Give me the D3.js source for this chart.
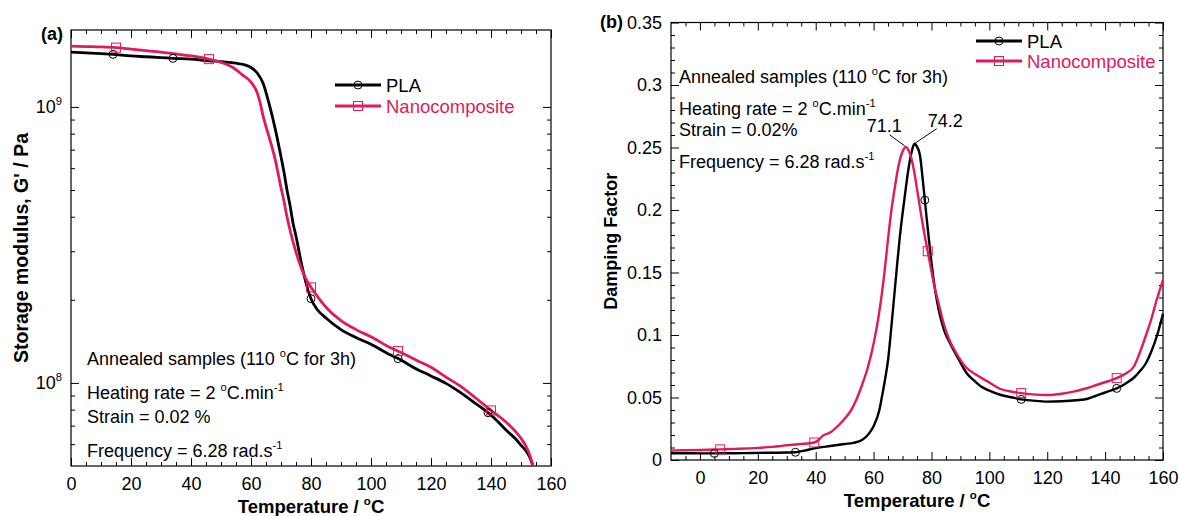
<!DOCTYPE html>
<html>
<head>
<meta charset="utf-8">
<script src="https://cdn.jsdelivr.net/npm/d3@7"></script>
<style>
  body { margin: 0; background: #fff; }
  svg { font-family: "Liberation Sans", Arial, Helvetica, sans-serif; }
</style>
</head>
<body>
<svg id="chart" width="1179" height="516"></svg>
<script>
// ---------------- data ----------------
const seriesNames = ["PLA", "Nanocomposite"];
const seriesColors = ["#000000", "#e01a5b"];

// (a) storage modulus G' (Pa) against temperature (°C)
const tempG_PLA = [0,5,10,14,20,25,30,34,40,46,50,55,58,60,62,64,66,68,70,71,72,73,74,75,76,77,78,79,80,82,85,90,95,100,106,110,114,120,125,130,135,139,142,145,148,150,152,153,154];
const gPLA = [1.58e9,1.57e9,1.56e9,1.55e9,1.53e9,1.52e9,1.51e9,1.50e9,1.49e9,1.47e9,1.46e9,1.44e9,1.42e9,1.39e9,1.33e9,1.22e9,1.03e9,8.4e8,6.6e8,5.8e8,5.0e8,4.4e8,3.8e8,3.4e8,3.0e8,2.65e8,2.38e8,2.17e8,2.02e8,1.85e8,1.72e8,1.56e8,1.46e8,1.38e8,1.27e8,1.21e8,1.14e8,1.06e8,9.96e7,9.2e7,8.4e7,7.8e7,7.3e7,6.75e7,6.3e7,5.95e7,5.6e7,5.35e7,5.0e7];
const tempG_Nano = [0,5,10,15,20,25,30,34,40,46,50,54,57,60,62,63,64,66,68,70,71,72,74,76,78,80,83,85,90,95,100,106,110,115,120,125,130,135,140,145,148,150,152,153,154];
const gNano = [1.66e9,1.655e9,1.65e9,1.64e9,1.62e9,1.60e9,1.58e9,1.56e9,1.53e9,1.49e9,1.45e9,1.39e9,1.31e9,1.23e9,1.13e9,1.04e9,9.3e8,7.8e8,6.5e8,5.1e8,4.55e8,4.0e8,3.25e8,2.75e8,2.42e8,2.22e8,2.0e8,1.88e8,1.68e8,1.56e8,1.47e8,1.35e8,1.29e8,1.21e8,1.14e8,1.05e8,9.7e7,8.8e7,7.95e7,7.22e7,6.7e7,6.3e7,5.8e7,5.45e7,5.0e7];
const markG_PLA = [14, 34, 80, 109, 139];
const markG_Nano = [15, 46, 80, 109, 140];

// (b) damping factor (tan delta) against temperature (°C)
const tempD_PLA = [-10,-5,0,5,10,15,20,25,30,33,36,40,45,50,53,56,58,60,62,63,64,65,66,67,68,69,70,71,72,73,73.6,74.2,74.8,76,77,78,79,80,81,82,83,84.5,86.5,90,92,95,97,100,104,108,111,115,120,125,130,134,137,140,144,147,150,152,154,156,158,160];
const tdPLA = [.0054,.0054,.0053,.0053,.0054,.0055,.0057,.0058,.0060,.0062,.0075,.0095,.0112,.0128,.0137,.016,.020,.027,.040,.052,.065,.080,.103,.128,.153,.177,.197,.215,.232,.245,.2505,.253,.2515,.244,.224,.201,.179,.158,.140,.126,.115,.103,.093,.078,.070,.063,.059,.0555,.052,.050,.0485,.0475,.0467,.047,.0478,.049,.0515,.054,.0573,.061,.066,.071,.077,.087,.100,.117];
const tempD_Nano = [-10,-5,0,7,12,20,25,31,36,39.5,41,42.5,45,48,50,52,54,56,58,60,61.6,62.8,64,65,66,67.4,68.5,69.7,70.5,71.1,72,73,74,75.4,76.5,77.7,78.7,80,81,82.3,84,86,88.7,92,95.6,100,103.6,107,111,115,120,125,129,133,137,141,144,147,150,152,154.3,156,157.8,160];
const tdNano = [.0075,.0078,.0080,.0085,.0089,.0097,.0105,.0120,.0130,.0140,.0160,.0195,.022,.028,.033,.039,.048,.060,.074,.093,.113,.132,.155,.177,.197,.219,.234,.245,.249,.2505,.248,.242,.231,.211,.195,.179,.167,.151,.139,.127,.111,.097,.085,.074,.068,.062,.057,.055,.0535,.0525,.052,.053,.0547,.057,.060,.063,.0655,.069,.075,.086,.101,.113,.128,.144];
const markD_PLA = [5, 33, 77.7, 111, 144];
const markD_Nano = [7, 39.5, 78.7, 111, 144];

// tick values
const xTicksMajor = [0, 20, 40, 60, 80, 100, 120, 140, 160];
const gTicksMajor = [1e8, 1e9];
const gTicksMinor = [6e7, 7e7, 8e7, 9e7, 2e8, 3e8, 4e8, 5e8, 6e8, 7e8, 8e8, 9e8];
const dTicksMajor = [0, 0.05, 0.1, 0.15, 0.2, 0.25, 0.3, 0.35];

// annotation text ('^' toggles superscript)
const conditionsText = [
  "Annealed samples (110 ^o^C for 3h)",
  "Heating rate = 2 ^o^C.min^-1",
  "Strain = 0.02 %",
  "Frequency = 6.28 rad.s^-1"
];
const conditionsTextB = [
  "Annealed samples (110 ^o^C for 3h)",
  "Heating rate = 2 ^o^C.min^-1",
  "Strain = 0.02%",
  "Frequency = 6.28 rad.s^-1"
];
const xTitle = "Temperature / ^o^C";
const yTitleA = "Storage modulus, G' / Pa";
const yTitleB = "Damping Factor";

// ---------------- drawing ----------------
const svg = d3.select("#chart");
const FS = 18;

function addRich(textSel, str, size) {
  const parts = str.split("^");
  let up = false;
  parts.forEach((p, i) => {
    if (!p.length) return;
    const sup = i % 2 === 1;
    const ts = textSel.append("tspan").text(p);
    if (sup) {
      ts.attr("font-size", 0.62 * size);
      if (!up) { ts.attr("dy", -0.45 * size); up = true; }
    } else if (up) {
      ts.attr("dy", 0.45 * size); up = false;
    }
  });
  return textSel;
}

function styleAxis(g) {
  g.attr("font-family", null).attr("font-size", FS);
  g.selectAll(".domain").remove();
  g.selectAll(".tick line").attr("stroke", "#000").attr("stroke-width", 1);
  g.selectAll(".tick text").attr("fill", "#000");
}

function pairs(ts, vs) { return ts.map((t, i) => [t, vs[i]]); }

function drawPanel(o) {
  const { x, y, g } = o;
  const [x0, x1] = x.range();
  const [y1, y0] = y.range();

  // major ticks with labels
  g.append("g").attr("transform", `translate(0,${y1})`)
    .call(d3.axisBottom(x).tickValues(xTicksMajor).tickSize(-8).tickSizeOuter(0).tickPadding(11).tickFormat(d3.format("d")))
    .call(styleAxis);
  g.append("g").attr("transform", `translate(0,${y1})`)
    .call(d3.axisBottom(x).tickValues(o.xMinor).tickSize(-4).tickSizeOuter(0).tickFormat(""))
    .call(styleAxis);
  g.append("g").attr("transform", `translate(0,${y0})`)
    .call(d3.axisTop(x).tickValues(xTicksMajor).tickSize(-8).tickSizeOuter(0).tickFormat(""))
    .call(styleAxis);
  g.append("g").attr("transform", `translate(0,${y0})`)
    .call(d3.axisTop(x).tickValues(o.xMinor).tickSize(-4).tickSizeOuter(0).tickFormat(""))
    .call(styleAxis);

  const yAxisMajor = g.append("g").attr("transform", `translate(${x0},0)`)
    .call(d3.axisLeft(y).tickValues(o.yMajor).tickSize(-8).tickSizeOuter(0).tickPadding(o.yPad).tickFormat(o.yFormat))
    .call(styleAxis);
  if (o.yRich) {
    yAxisMajor.selectAll(".tick text").each(function (d) {
      const t = d3.select(this);
      t.text(null);
      addRich(t, o.yRich(d), FS);
    });
  }
  g.append("g").attr("transform", `translate(${x0},0)`)
    .call(d3.axisLeft(y).tickValues(o.yMinor).tickSize(-4).tickSizeOuter(0).tickFormat(""))
    .call(styleAxis);
  g.append("g").attr("transform", `translate(${x1},0)`)
    .call(d3.axisRight(y).tickValues(o.yMajor).tickSize(-8).tickSizeOuter(0).tickFormat(""))
    .call(styleAxis);
  g.append("g").attr("transform", `translate(${x1},0)`)
    .call(d3.axisRight(y).tickValues(o.yMinor).tickSize(-4).tickSizeOuter(0).tickFormat(""))
    .call(styleAxis);

  // frame
  g.append("rect").attr("x", x0).attr("y", y0).attr("width", x1 - x0).attr("height", y1 - y0)
    .attr("fill", "none").attr("stroke", "#000").attr("stroke-width", 1.2);

  // curves
  const line = d3.line().x(d => x(d[0])).y(d => y(d[1])).curve(d3.curveMonotoneX);
  o.series.forEach((s, i) => {
    g.append("path").datum(s.pts).attr("d", line)
      .attr("fill", "none").attr("stroke", seriesColors[i]).attr("stroke-width", o.lw)
      .attr("stroke-linejoin", "round");
  });
  // markers placed on the curves
  o.series.forEach((s, i) => {
    const interp = o.log
      ? t => Math.pow(10, d3.scaleLinear().domain(s.pts.map(p => p[0])).range(s.pts.map(p => Math.log10(p[1])))(t))
      : t => d3.scaleLinear().domain(s.pts.map(p => p[0])).range(s.pts.map(p => p[1]))(t);
    s.marks.forEach(t => drawMarker(g, i, x(t), y(interp(t))));
  });

  // titles
  const xt = g.append("text").attr("x", (x0 + x1) / 2).attr("y", y1 + o.xTitleDy)
    .attr("text-anchor", "middle").attr("font-weight", "bold").attr("font-size", o.titleFs);
  addRich(xt, xTitle, o.titleFs);
  g.append("text").attr("transform", `translate(${o.yTitleX},${(y0 + y1) / 2}) rotate(-90)`)
    .attr("text-anchor", "middle").attr("font-weight", "bold").attr("font-size", o.yTitleFs)
    .text(o.yTitle);
  g.append("text").attr("x", o.tag[0]).attr("y", o.tag[1]).attr("font-weight", "bold")
    .attr("font-size", FS).text(o.tagText);

  // conditions
  o.cond.forEach((str, i) => {
    const t = g.append("text").attr("x", o.condX).attr("y", o.condY[i]).attr("font-size", FS);
    addRich(t, str, FS);
  });

  // legend
  seriesNames.forEach((name, i) => {
    const ly = o.legY[i];
    g.append("line").attr("x1", o.legX).attr("x2", o.legX + 46).attr("y1", ly).attr("y2", ly)
      .attr("stroke", seriesColors[i]).attr("stroke-width", 3);
    drawMarker(g, i, o.legX + 23, ly);
    g.append("text").attr("x", o.legX + 51).attr("y", ly + 7).attr("font-size", o.legFs)
      .attr("fill", seriesColors[i]).text(name);
  });
}

function drawMarker(g, i, cx, cy) {
  if (i === 0) {
    g.append("circle").attr("cx", cx).attr("cy", cy).attr("r", 4)
      .attr("fill", "none").attr("stroke", seriesColors[0]).attr("stroke-width", 1);
  } else {
    g.append("rect").attr("x", cx - 4.5).attr("y", cy - 4.5).attr("width", 9).attr("height", 9)
      .attr("fill", "none").attr("stroke", seriesColors[1]).attr("stroke-width", 1);
  }
}

// ----- panel (a) -----
const xA = d3.scaleLinear().domain([0, 160]).range([71, 551]);
const yA = d3.scaleLog().domain([5e7, 1.9e9]).range([466, 30]);
drawPanel({
  g: svg.append("g"), x: xA, y: yA, log: true, lw: 2.8,
  xMinor: d3.range(5, 160, 5).filter(v => v % 20 !== 0),
  yMajor: gTicksMajor, yMinor: gTicksMinor, yPad: 9,
  yFormat: d => "", yRich: d => "10^" + Math.round(Math.log10(d)),
  series: [
    { pts: pairs(tempG_PLA, gPLA), marks: markG_PLA },
    { pts: pairs(tempG_Nano, gNano), marks: markG_Nano }
  ],
  xTitleDy: 47, titleFs: 18.5, yTitle: yTitleA, yTitleX: 28, yTitleFs: 19.5,
  tag: [41, 40], tagText: "(a)",
  cond: conditionsText, condX: 87, condY: [365, 399, 423, 457],
  legX: 335, legY: [85, 106], legFs: 18.5
});

// ----- panel (b) -----
const xB = d3.scaleLinear().domain([-10, 160]).range([671, 1163]);
const yB = d3.scaleLinear().domain([0, 0.35]).range([460, 22.5]);
drawPanel({
  g: svg.append("g"), x: xB, y: yB, log: false, lw: 2.4,
  xMinor: d3.range(-5, 160, 5).filter(v => v % 20 !== 0),
  yMajor: dTicksMajor, yMinor: d3.range(0.01, 0.35, 0.01).filter((v, i) => (i + 1) % 5 !== 0), yPad: 9,
  yFormat: d => d3.format("")(+d.toFixed(2)),
  series: [
    { pts: pairs(tempD_PLA, tdPLA), marks: markD_PLA },
    { pts: pairs(tempD_Nano, tdNano), marks: markD_Nano }
  ],
  xTitleDy: 47, titleFs: 18.5, yTitle: yTitleB, yTitleX: 617, yTitleFs: 18,
  tag: [600, 28], tagText: "(b)",
  cond: conditionsTextB, condX: 679, condY: [83, 115, 136, 168],
  legX: 976, legY: [41, 61], legFs: 18.5
});

// peak temperatures of the damping factor, labelled with leader lines
(function () {
  const g = svg.append("g");
  const peak = (ts, vs) => { const i = d3.maxIndex(vs); return [ts[i], vs[i]]; };
  const pP = peak(tempD_PLA, tdPLA);
  const pN = peak(tempD_Nano, tdNano);
  const fmt = d3.format(".1f");
  const nx = xB(pN[0]), ny = yB(pN[1]);
  const px = xB(pP[0]), py = yB(pP[1]);
  g.append("line").attr("x1", nx - 16).attr("y1", ny - 12).attr("x2", nx - 1).attr("y2", ny - 1)
    .attr("stroke", "#000").attr("stroke-width", 1);
  g.append("text").attr("x", nx - 4).attr("y", ny - 15).attr("text-anchor", "end")
    .attr("font-size", FS).text(fmt(pN[0]));
  g.append("line").attr("x1", px + 22).attr("y1", py - 15).attr("x2", px + 1).attr("y2", py - 1)
    .attr("stroke", "#000").attr("stroke-width", 1);
  g.append("text").attr("x", px + 13).attr("y", py - 17)
    .attr("font-size", FS).text(fmt(pP[0]));
})();
</script>
</body>
</html>
